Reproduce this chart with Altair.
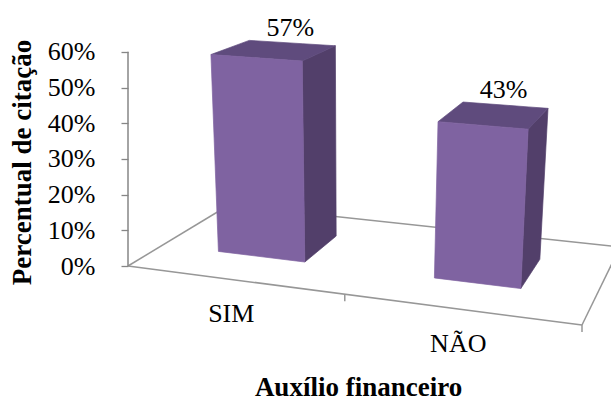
import altair as alt
import pandas as pd

# ---------------- data ----------------
categories = ["SIM", "NÃO"]
values = [0.57, 0.43]
tick_values = [0, 0.1, 0.2, 0.3, 0.4, 0.5, 0.6]
y_title = "Percentual de citação"
x_title = "Auxílio financeiro"

# ---------------- layout / style constants ----------------
W, H = 611, 406
LEFT = 128          # pixel column of the value axis
PX_U = 227.0        # pixels per category unit along the front edge
PX_V = 357.0        # pixels per value unit on the axis
Y0 = 266.0          # pixel row of 0% on the axis
# floor corners (front-left, front-right, back-left, back-right) in pixels
FA, FB, FC, FD = (128, 266), (582, 325), (229, 205), (620, 247)
CX, CONV = 350.0, 0.1   # perspective convergence of verticals
BAR_OFF, BAR_HALF = 0.455, 0.2
W0, W1 = 0.35, 0.74     # bar depth (fraction of floor depth)
FRONT, TOP, SIDE = "#7F63A1", "#5F4B7D", "#523F6A"
LINE = "#979797"
FONT = "Liberation Serif"


def to_screen(px, py):
    return (px - LEFT) / PX_U, (Y0 - py) / PX_V


def floor_px(u, w):
    t = u / 2.0
    fx = (1 - w) * ((1 - t) * FA[0] + t * FB[0]) + w * ((1 - t) * FC[0] + t * FD[0])
    fy = (1 - w) * ((1 - t) * FA[1] + t * FB[1]) + w * ((1 - t) * FC[1] + t * FD[1])
    return fx, fy


def project_px(u, v, w):
    fx, fy = floor_px(u, w)
    g = (1 + 0.053 * u) * (1 - 0.13 * w)
    py = fy - v * PX_V * g
    px = CX + (fx - CX) * (1 + CONV * v)
    return px, py


def project(u, v, w):
    return to_screen(*project_px(u, v, w))


def poly_rows(pts, face, color):
    xs = []
    for p in sorted(p[0] for p in pts):
        if not xs or abs(p - xs[-1]) > 1e-9:
            xs.append(p)
    rows = []
    n = len(pts)
    for x in xs:
        ys = []
        for i in range(n):
            (x1, y1), (x2, y2) = pts[i], pts[(i + 1) % n]
            lo, hi = min(x1, x2), max(x1, x2)
            if hi - lo < 1e-9:
                if abs(x - x1) < 1e-7:
                    ys += [y1, y2]
            elif lo - 1e-9 <= x <= hi + 1e-9:
                t = (x - x1) / (x2 - x1)
                ys.append(y1 + t * (y2 - y1))
        rows.append({"face": face, "x": x, "y": min(ys), "y2": max(ys), "color": color})
    return rows


# ---------------- build geometry tables from the values ----------------
face_rows, label_rows, cat_rows = [], [], []
for i, (cat, v) in enumerate(zip(categories, values)):
    uc = i + BAR_OFF
    u1, u2 = uc - BAR_HALF, uc + BAR_HALF
    front = [project(u1, 0, W0), project(u2, 0, W0), project(u2, v, W0), project(u1, v, W0)]
    side = [project(u2, 0, W0), project(u2, 0, W1), project(u2, v, W1), project(u2, v, W0)]
    top = [project(u1, v, W0), project(u2, v, W0), project(u2, v, W1), project(u1, v, W1)]
    face_rows += poly_rows(side, f"{cat}-side", SIDE)
    face_rows += poly_rows(top, f"{cat}-top", TOP)
    face_rows += poly_rows(front, f"{cat}-front", FRONT)
    lx, ly = project(uc, v, W1)
    label_rows.append({"x": lx, "y": ly, "text": f"{round(v * 100)}%"})
    bx, by = project(uc, 0, 0)
    cat_rows.append({"x": bx, "y": by, "text": cat})

faces = pd.DataFrame(face_rows)
labels = pd.DataFrame(label_rows)
cats = pd.DataFrame(cat_rows)

A = to_screen(*FA)
B = to_screen(*FB)
C = to_screen(*FC)
D = to_screen(*FD)
seg = []
for p, q in [(A, B), (A, C), (C, D), (B, D)]:
    seg.append({"x": p[0], "y": p[1], "x2": q[0], "y2": q[1], "c": LINE})
# category-axis ticks: between the two categories and at the end of the floor
for u in (BAR_OFF + 0.5, 2):
    p = project(u, 0, 0)
    seg.append({"x": p[0], "y": p[1], "x2": p[0], "y2": p[1] - 7 / PX_V, "c": LINE})
seg.append({"x": 0, "y": 0, "x2": 0, "y2": tick_values[-1], "c": "#868686"})
segs = pd.DataFrame(seg)

# ---------------- scales & axes ----------------
xscale = alt.Scale(domain=[0, (W - LEFT) / PX_U], nice=False, zero=False)
yscale = alt.Scale(domain=[(Y0 - H) / PX_V, Y0 / PX_V], nice=False, zero=False)
xaxis = alt.Axis(labels=False, ticks=False, domain=False, grid=False, title=x_title,
                 titleFont=FONT, titleFontSize=27, titleFontWeight="bold", titleColor="black",
                 titleX=230, titleY=-11, titleBaseline="alphabetic", titleAlign="center")
yaxis = alt.Axis(values=tick_values, format=".0%", domain=False, grid=False,
                 tickColor="#868686", tickSize=7, tickWidth=1.3,
                 labelFont=FONT, labelFontSize=26, labelColor="black", labelPadding=26,
                 title=y_title, titleFont=FONT, titleFontSize=27, titleFontWeight="bold",
                 titleColor="black", titleAngle=-90, titleX=-98, titleY=162,
                 titleBaseline="alphabetic", titleAlign="center")


def X(f="x"):
    return alt.X(f"{f}:Q", scale=xscale, axis=xaxis)


def Y(f="y"):
    return alt.Y(f"{f}:Q", scale=yscale, axis=yaxis)


floor = alt.Chart(segs).mark_rule(strokeWidth=1.5).encode(
    x=X(), y=Y(), x2="x2:Q", y2="y2:Q", color=alt.Color("c:N", scale=None)
)

bars = alt.Chart(faces).mark_area(orient="vertical", strokeWidth=0.7, interpolate="linear").encode(
    x=X(), y=Y(), y2="y2:Q", detail="face:N",
    color=alt.Color("color:N", scale=None), stroke=alt.Stroke("color:N", scale=None)
)

val_text = alt.Chart(labels).mark_text(
    font=FONT, fontSize=26, color="black", align="center", baseline="alphabetic", dx=-2, dy=-7
).encode(x=X(), y=Y(), text="text:N")

cat_text = alt.Chart(cats).mark_text(
    font=FONT, fontSize=26, color="black", align="center", baseline="alphabetic", dy=43
).encode(x=X(), y=Y(), text="text:N")

chart = alt.layer(floor, bars, val_text, cat_text).properties(
    width=W - LEFT, height=H,
    padding={"left": LEFT, "top": 0, "right": 0, "bottom": 0},
    autosize=alt.AutoSizeParams(type="none"),
    background="white",
).configure_view(stroke=None).configure_axis(
    labelFont=FONT, labelFontSize=26, titleFont=FONT
).configure_text(font=FONT)

chart.save("out.html", embed_options={"renderer": "svg", "actions": False})
